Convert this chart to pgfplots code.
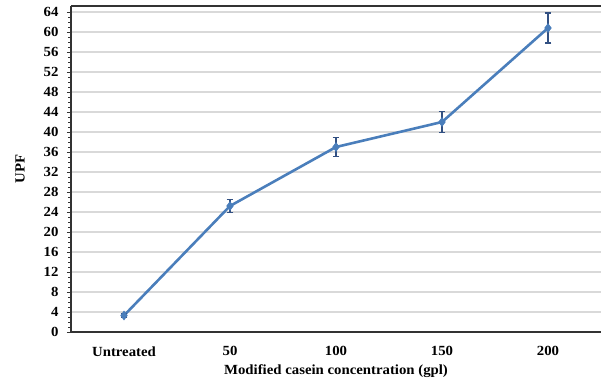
\documentclass[border=0pt]{standalone}
\usepackage{pgfplots}
\pgfplotsset{compat=1.18}
\usepackage{fontspec}
\setmainfont[FakeStretch=1.06]{Liberation Serif}
\definecolor{lineblue}{RGB}{74,126,187}
\definecolor{errblue}{RGB}{50,80,130}
\definecolor{gridgray}{RGB}{217,217,217}
\begin{document}
\begin{tikzpicture}
\begin{axis}[
  scale only axis,
  width=530bp, height=326bp,
  xmin=-0.5, xmax=4.5,
  ymin=0, ymax=65.2,
  axis lines=left,
  axis line style={-, black!80, line width=1.6pt},
  xtick=data,
  xticklabels={Untreated,50,100,150,200},
  xtick style={draw=none},
  ytick={0,4,...,64},
  minor y tick num=3,
  ytick style={black!80, line width=0.8pt},
  tick align=outside,
  major tick length=4bp,
  minor tick length=2.5bp,
  ymajorgrids,
  major grid style={gridgray, line width=1.2pt},
  tick label style={font=\fontsize{14}{16}\selectfont\bfseries},
  /pgf/number format/assume math mode=true,
  xticklabel style={yshift=-7bp},
  yticklabel style={xshift=-5bp},
  xlabel={Modified casein concentration (gpl)},
  ylabel={UPF},
  label style={font=\fontsize{14}{16}\selectfont\bfseries},
  xlabel style={yshift=-1bp},
  ylabel style={yshift=12bp},
  clip=false,
]
\addplot+[
  lineblue, line width=2.6pt, mark=diamond*, mark size=4.5pt,
  mark options={fill=lineblue, draw=lineblue, line width=0.5pt},
  error bars/.cd, y dir=both, y explicit,
  error bar style={errblue, line width=1.1pt},
  error mark options={rotate=90, errblue, mark size=3.5pt, line width=1.1pt}
] table[x=x, y=y, y error=e] {
x y e
0 3.3 0.3
1 25.2 1.3
2 37.0 1.9
3 42.0 2.1
4 60.8 3.0
};
\draw[black!80, line width=1.6pt] (rel axis cs:0,1) -- (rel axis cs:1,1);
\coordinate (bl) at (rel axis cs:0,0);
\coordinate (tr) at (rel axis cs:1,1);
\end{axis}
\pgfresetboundingbox
\path ([shift={(-71bp,-50bp)}]bl) rectangle ([shift={(0bp,6bp)}]tr);
\end{tikzpicture}
\end{document}
